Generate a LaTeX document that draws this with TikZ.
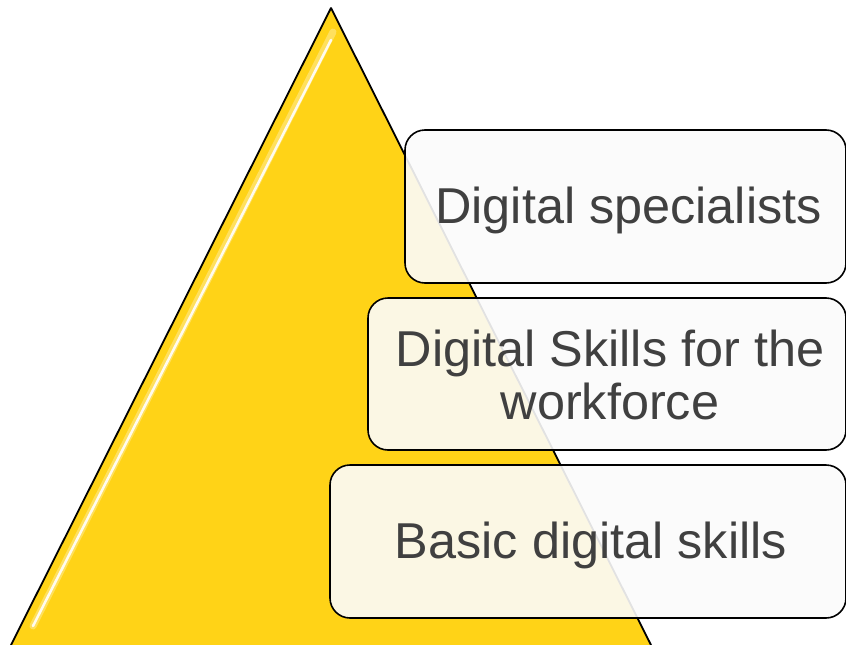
\documentclass[tikz,border=0pt]{standalone}
\usepackage{fontspec}
\setmainfont{Liberation Sans}
\definecolor{pyr}{HTML}{FFD317}
\definecolor{txt}{HTML}{404040}
\definecolor{boxfill}{HTML}{FBFBFB}
\tikzset{
  levelbox/.style={draw=black, line width=1.6pt, rounded corners=20pt,
    fill=boxfill, fill opacity=0.9, inner sep=0pt},
  leveltext/.style={text=txt, align=center, inner sep=0pt,
    font=\fontsize{50.4}{53}\selectfont},
}
\begin{document}
\begin{tikzpicture}[x=1pt,y=-1pt]
\useasboundingbox (0,0) rectangle (846,645);
% pyramid
\coordinate (apex) at (331,8);
\coordinate (bl) at (11,645);
\coordinate (br) at (651,645);
\fill[pyr] (apex) -- (bl) -- (br) -- cycle;
% glossy highlight along the left side
\draw[white, line width=7pt, opacity=0.3, line cap=round] (333,32) -- (33,626);
\draw[white, line width=2.5pt, opacity=0.9, line cap=round] (331,40) -- (33,626);
\draw[black, line width=1.8pt, line join=round] (bl) -- (apex) -- (br);
% level boxes
\node[levelbox, minimum width=441pt, minimum height=153pt] (spec) at (625.5,206.5) {};
\node[levelbox, minimum width=478pt, minimum height=152pt] (work) at (607,374) {};
\node[levelbox, minimum width=516pt, minimum height=153pt] (basic) at (588,541.5) {};
% texts
\node[leveltext] (spect) at (628.5,210.5) {Digital specialists};
\node[leveltext] (workt) at (610,375) {Digital Skills for the\\workforce};
\node[leveltext] (basict) at (591,545.5) {Basic digital skills};
\end{tikzpicture}
\end{document}
